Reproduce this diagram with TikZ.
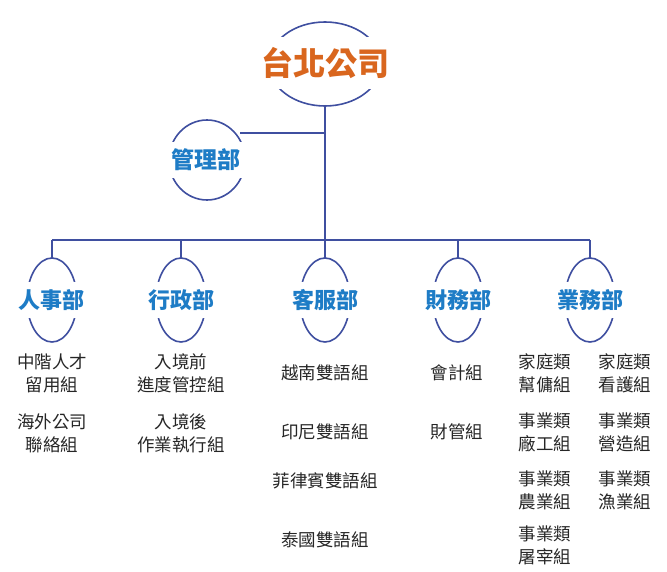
\documentclass[tikz,border=0pt]{standalone}
\usepackage{fontspec}
\setmainfont{Noto Sans CJK TC}
\begin{document}
\begin{tikzpicture}[x=1pt,y=-1pt,
  ln/.style={draw=lc,line width=1.6pt},
  dept/.style={fill=white,text=dc,font=\fontsize{22}{24}\selectfont\bfseries,inner sep=0pt},
  sub/.style={align=center,font=\fontsize{17.5}{23}\selectfont,text=black!85}]
\definecolor{lc}{HTML}{3F4FA0}
\definecolor{dc}{HTML}{1E7CC6}
\definecolor{oc}{HTML}{D9661E}
\useasboundingbox (0,0) rectangle (667,572);
% trunk and bars
\coordinate (t1) at (325,105);
\coordinate (t2) at (325,240);
\coordinate (tm) at (325,133);
\draw[ln] (t1) -- (t2);
\draw[ln] (tm) -- (240,133);
\draw[ln] (52,240) -- (590,240);
\foreach \x in {52,181,325,458,590}{\draw[ln] (\x,240) -- (\x,258);}
% ellipses
\draw[ln] (325,64) ellipse (56 and 42);
\node[fill=white,text=oc,font=\fontsize{32}{34}\selectfont\bfseries,inner sep=0pt,minimum width=134pt,minimum height=52pt] (top) at (325,63) {台北公司};
\draw[ln] (207,160) ellipse (38 and 40);
\node[dept,minimum width=80pt,minimum height=36pt,font=\fontsize{23}{24}\selectfont\bfseries] (mg) at (206,160) {管理部};
\foreach \x/\t/\n in {52/人事部/d1,181/行政部/d2,325/客服部/d3,458/財務部/d4,590/業務部/d5}{
  \draw[ln] (\x,300) ellipse (25 and 42);
  \node[dept,minimum width=72pt,minimum height=36pt] (\n) at (\x,300) {\t};
}
% sub items
\node[sub] (a1) at (52,373) {中階人才\\留用組};
\node[sub] (a2) at (52,433) {海外公司\\聯絡組};
\node[sub] (b1) at (181,373) {入境前\\進度管控組};
\node[sub] (b2) at (181,433) {入境後\\作業執行組};
\node[sub] (c1) at (325,373) {越南雙語組};
\node[sub] (c2) at (325,432) {印尼雙語組};
\node[sub] (c3) at (325,481) {菲律賓雙語組};
\node[sub] (c4) at (325,540) {泰國雙語組};
\node[sub] (e1) at (457,373) {會計組};
\node[sub] (e2) at (457,432) {財管組};
\node[sub] (f1) at (545,373) {家庭類\\幫傭組};
\node[sub] (f2) at (625,373) {家庭類\\看護組};
\node[sub] (f3) at (545,432) {事業類\\廠工組};
\node[sub] (f4) at (625,432) {事業類\\營造組};
\node[sub] (f5) at (545,490) {事業類\\農業組};
\node[sub] (f6) at (625,490) {事業類\\漁業組};
\node[sub] (f7) at (545,545) {事業類\\屠宰組};
\end{tikzpicture}
\end{document}
